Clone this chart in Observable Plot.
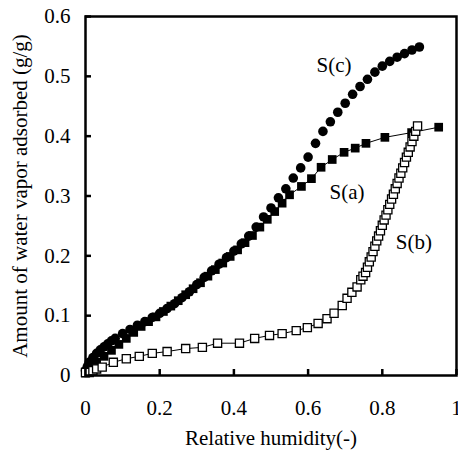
<!DOCTYPE html>
<html>
<head>
<meta charset="utf-8">
<script src="https://cdn.jsdelivr.net/npm/d3@7"></script>
<script src="https://cdn.jsdelivr.net/npm/@observablehq/plot@0.6"></script>
<style>
  html, body { margin: 0; padding: 0; background: #fff; }
  #chart { width: 458px; height: 456px; }
</style>
</head>
<body>
<div id="chart"></div>
<script>
// S(a): filled squares
const saX = [0, 0.01, 0.02, 0.03, 0.05, 0.07, 0.09, 0.11, 0.13, 0.15, 0.17, 0.19, 0.21, 0.23, 0.25, 0.27, 0.29, 0.31, 0.33, 0.35, 0.37, 0.39, 0.41, 0.43, 0.45, 0.47, 0.49, 0.51, 0.53, 0.55, 0.582, 0.609, 0.635, 0.665, 0.697, 0.727, 0.756, 0.807, 0.879, 0.952];
const saY = [0.004, 0.01, 0.016, 0.022, 0.032, 0.042, 0.052, 0.062, 0.072, 0.082, 0.09, 0.098, 0.107, 0.116, 0.125, 0.135, 0.145, 0.155, 0.166, 0.177, 0.188, 0.199, 0.21, 0.222, 0.234, 0.248, 0.261, 0.274, 0.288, 0.302, 0.316, 0.329, 0.348, 0.361, 0.373, 0.38, 0.388, 0.398, 0.406, 0.415];

// S(b): open squares
const sbX = [0, 0.01, 0.02, 0.03, 0.045, 0.075, 0.11, 0.145, 0.18, 0.22, 0.27, 0.315, 0.356, 0.415, 0.456, 0.496, 0.53, 0.568, 0.598, 0.627, 0.651, 0.67, 0.692, 0.705, 0.718, 0.732, 0.742, 0.748, 0.755, 0.76, 0.765, 0.77, 0.775, 0.78, 0.785, 0.79, 0.795, 0.8, 0.805, 0.81, 0.815, 0.82, 0.825, 0.83, 0.835, 0.84, 0.845, 0.85, 0.855, 0.86, 0.865, 0.87, 0.875, 0.88, 0.885, 0.89, 0.895];
const sbY = [0.005, 0.005, 0.008, 0.011, 0.014, 0.022, 0.028, 0.032, 0.037, 0.04, 0.045, 0.047, 0.054, 0.054, 0.062, 0.067, 0.07, 0.075, 0.08, 0.087, 0.095, 0.104, 0.117, 0.129, 0.139, 0.148, 0.16, 0.166, 0.172, 0.181, 0.19, 0.198, 0.207, 0.216, 0.225, 0.233, 0.242, 0.251, 0.26, 0.268, 0.277, 0.286, 0.295, 0.303, 0.312, 0.321, 0.33, 0.338, 0.347, 0.356, 0.365, 0.373, 0.382, 0.391, 0.4, 0.408, 0.417];

// S(c): filled circles
const scX = [0, 0.005, 0.01, 0.02, 0.03, 0.04, 0.05, 0.06, 0.07, 0.08, 0.1, 0.12, 0.14, 0.16, 0.18, 0.2, 0.22, 0.24, 0.26, 0.28, 0.3, 0.32, 0.34, 0.36, 0.38, 0.4, 0.42, 0.44, 0.46, 0.48, 0.5, 0.52, 0.54, 0.56, 0.58, 0.6, 0.62, 0.64, 0.66, 0.68, 0.7, 0.72, 0.74, 0.76, 0.78, 0.8, 0.82, 0.84, 0.86, 0.88, 0.9];
const scY = [0.008, 0.015, 0.022, 0.03, 0.037, 0.043, 0.048, 0.053, 0.058, 0.062, 0.07, 0.077, 0.084, 0.09, 0.097, 0.104, 0.112, 0.12, 0.13, 0.14, 0.152, 0.164, 0.175, 0.186, 0.197, 0.208, 0.22, 0.233, 0.248, 0.265, 0.28, 0.297, 0.312, 0.33, 0.347, 0.365, 0.388, 0.408, 0.424, 0.44, 0.455, 0.47, 0.483, 0.495, 0.507, 0.517, 0.525, 0.532, 0.538, 0.544, 0.549];

const xTicks = [0, 0.2, 0.4, 0.6, 0.8, 1];
const yTicks = [0, 0.1, 0.2, 0.3, 0.4, 0.5, 0.6];
const seriesLabels = ["S(a)", "S(b)", "S(c)"];
const labelX = [0.705, 0.885, 0.67];
const labelY = [0.306, 0.222, 0.518];
const xTitle = "Relative humidity(-)";
const yTitle = "Amount of water vapor adsorbed (g/g)";

const zip = (xs, ys) => xs.map((x, i) => ({x, y: ys[i]}));
const sa = zip(saX, saY), sb = zip(sbX, sbY), sc = zip(scX, scY);
const labels = seriesLabels.map((t, i) => ({t, x: labelX[i], y: labelY[i]}));
const fmt = d => String(d);
const FONT = "'Liberation Serif', 'Times New Roman', serif";

const plot = Plot.plot({
  width: 458,
  height: 456,
  marginLeft: 85,
  marginRight: 2,
  marginTop: 16,
  marginBottom: 81,
  style: {fontFamily: FONT, fontSize: "21px", color: "#000", background: "#fff"},
  x: {domain: [0, 1]},
  y: {domain: [0, 0.6]},
  marks: [
    Plot.axisX({ticks: xTicks, tickFormat: fmt, tickSize: -6, tickPadding: 31, strokeWidth: 2.5, label: null, fontSize: 21, fontFamily: FONT}),
    Plot.axisY({ticks: yTicks, tickFormat: fmt, tickSize: -6, tickPadding: 21, strokeWidth: 2.5, label: null, fontSize: 21, fontFamily: FONT}),
    Plot.line(sa, {x: "x", y: "y", stroke: "#000", strokeWidth: 1}),
    Plot.line(sb, {x: "x", y: "y", stroke: "#000", strokeWidth: 1}),
    Plot.dot(sc, {x: "x", y: "y", r: 4.8, fill: "#000", stroke: "none"}),
    Plot.dot(sa, {x: "x", y: "y", r: 4.9, symbol: "square", fill: "#000", stroke: "none"}),
    Plot.dot(sb, {x: "x", y: "y", r: 4.6, symbol: "square", fill: "#fff", stroke: "#000", strokeWidth: 1.3}),
    Plot.text(labels, {x: "x", y: "y", text: "t", fontSize: 21, fontFamily: FONT, fill: "#000"}),
    Plot.frame({stroke: "#000", strokeWidth: 2.5}),
    Plot.text([yTitle], {text: d => d, frameAnchor: "left", textAnchor: "middle", dx: -65, rotate: -90, fontSize: 21, fontFamily: FONT, fill: "#000"}),
    Plot.text([xTitle], {text: d => d, frameAnchor: "bottom", textAnchor: "middle", dy: 69, fontSize: 21, fontFamily: FONT, fill: "#000"})
  ]
});
document.getElementById("chart").appendChild(plot);
</script>
</body>
</html>
